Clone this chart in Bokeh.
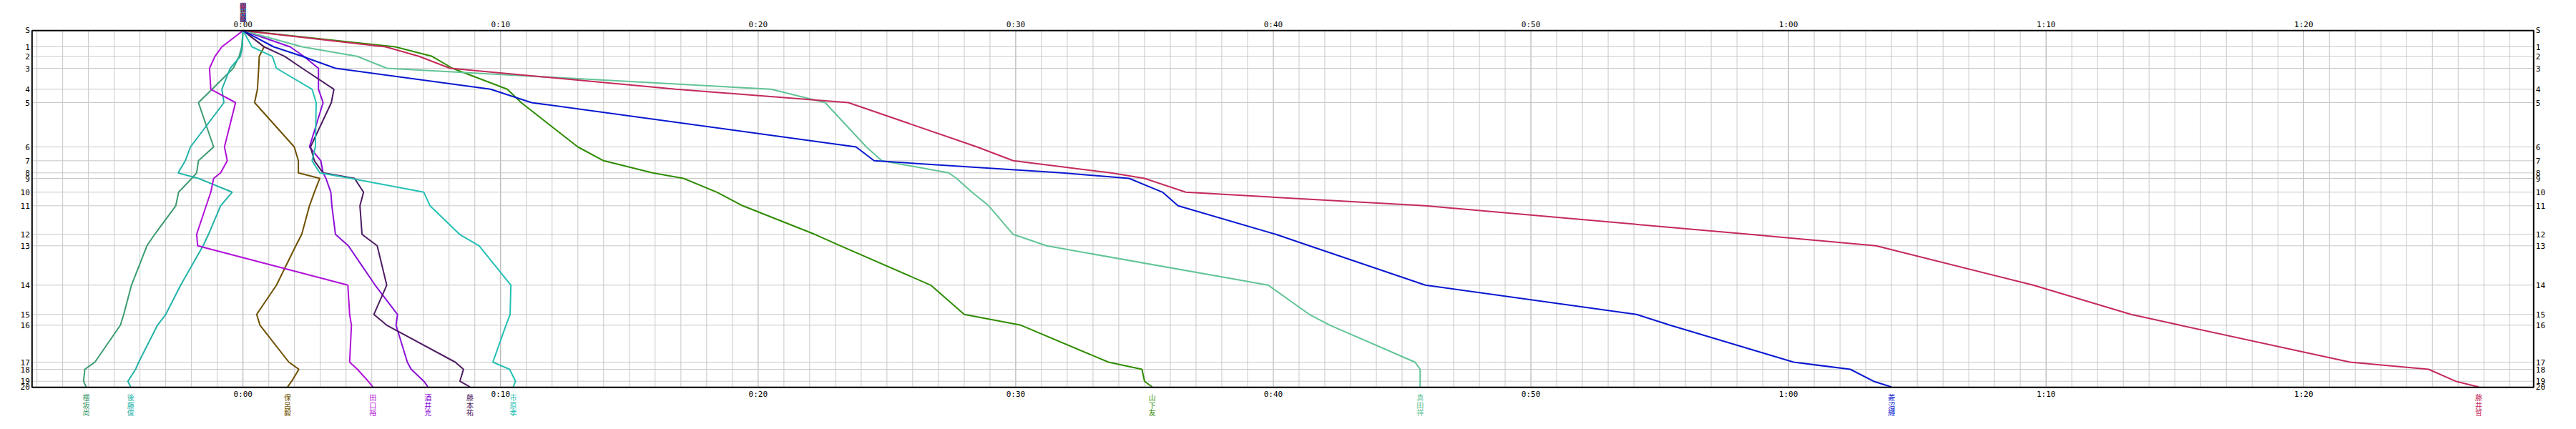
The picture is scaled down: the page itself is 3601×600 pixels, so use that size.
from bokeh.plotting import figure
from bokeh.models import Range1d
from bokeh.core.properties import value
from bokeh.embed import file_html
from bokeh.resources import INLINE

# ---------------- data ----------------
controls = ["S"] + [str(i) for i in range(1, 21)]
# cumulative reference scale of each control (vertical position, arbitrary units)
control_pos = [0, 22.7, 36, 52.7, 82, 100.7, 162.7, 182, 199, 206.7, 226, 245,
               285, 301, 356, 397, 412, 463.7, 473.7, 490.4, 498.4]

runners = ["櫻坂尚", "後藤俊", "保呂毅", "田口裕", "酒井克", "藤本祐",
           "市原孝", "山下友", "真田祥", "菱沼輝", "藤井哲"]
colors = ["#3C9C70", "#22B2A8", "#6E5000", "#B010D8", "#8C10D8", "#4E1C64",
          "#24C0B4", "#2E8C00", "#62C496", "#0818D0", "#C42A5A"]

# time behind the reference (minutes) at each control
d_sakurazaka = [0, -0.05, -0.15, -0.38, -1.2, -1.73, -1.14, -1.73, -1.80, -1.99, -2.50,
                -2.61, -3.43, -3.73, -4.33, -4.63, -4.76, -5.75, -6.14, -6.19, -6.09]
d_goto = [0, -0.03, -0.10, -0.5, -0.82, -0.74, -2.04, -2.24, -2.52, -1.73, -0.42,
          -0.87, -1.34, -1.55, -2.42, -3.0, -3.32, -4.05, -4.17, -4.47, -4.36]
d_horo = [0, 0.82, 0.63, 0.61, 0.56, 0.45, 1.99, 2.15, 2.15, 2.98, 2.77,
          2.58, 2.28, 2.05, 1.30, 0.53, 0.66, 1.78, 2.17, 1.89, 1.73]
d_taguchi = [0, -0.82, -1.09, -1.30, -1.25, -0.29, -0.72, -0.61, -0.87, -1.14, -1.25,
             -1.43, -1.80, -1.76, 4.07, 4.14, 4.21, 4.14, 4.44, 4.86, 5.04]
d_sakai = [0, 1.83, 2.36, 2.93, 2.93, 3.11, 2.58, 3.02, 3.11, 3.22, 3.41,
           3.45, 3.59, 4.09, 5.13, 6.0, 5.94, 6.38, 6.53, 7.02, 7.18]
d_fujimoto = [0, 0.82, 1.62, 2.3, 3.53, 3.43, 2.62, 2.77, 3.11, 4.33, 4.68,
              4.54, 4.62, 5.21, 5.58, 5.08, 5.58, 8.24, 8.56, 8.42, 8.81]
d_ichihara = [0, 0.35, 1.14, 1.30, 2.68, 2.84, 2.81, 2.68, 2.98, 4.19, 7.02,
              7.26, 8.41, 9.17, 10.40, 10.37, 10.21, 9.70, 10.35, 10.58, 10.49]
d_yamashita = [0, 5.91, 7.34, 8.13, 10.26, 10.8, 13.0, 14.0, 15.9, 17.1, 18.4,
               19.4, 22.2, 23.2, 26.7, 28.0, 30.2, 33.6, 34.9, 35.0, 35.3]
d_sanada = [0, 2.30, 4.43, 5.59, 20.5, 22.6, 24.2, 24.8, 27.4, 27.7, 28.3,
            28.95, 29.9, 31.2, 39.8, 41.4, 42.2, 45.5, 45.7, 45.7, 45.7]
d_hishinuma = [0, 1.19, 2.30, 3.59, 9.61, 11.2, 23.8, 24.5, 31.8, 34.4, 35.7,
               36.3, 40.1, 41.4, 45.9, 54.1, 55.4, 60.2, 62.4, 63.3, 64.0]
d_fujii = [0, 5.54, 6.83, 8.04, 16.8, 23.5, 28.5, 29.9, 33.7, 35.0, 36.6,
           45.9, 58.5, 63.4, 69.5, 73.3, 75.2, 81.8, 84.85, 85.9, 86.8]

diffs = [d_sakurazaka, d_goto, d_horo, d_taguchi, d_sakai, d_fujimoto,
         d_ichihara, d_yamashita, d_sanada, d_hishinuma, d_fujii]

x_major = list(range(0, 90, 10))
x_minor = [m for m in range(-8, 89) if m % 10 != 0]
x_labels = ["%d:%02d" % (m // 60, m % 60) for m in x_major]

# ---------------- layout ----------------
W, H = 3585, 584
BOX_L, BOX_R = -8.19, 88.93          # time span of the plot box (minutes)
BOX_T, BOX_B = 0.0, 499.0            # vertical span of the plot box
PX_L, PX_T = 44.3, 42.3              # box offset inside the canvas (px)
PPM = 3497 / (BOX_R - BOX_L)         # px per minute

p = figure(width=W, height=H, output_backend="svg", toolbar_location=None,
           title=None, x_axis_location=None, y_axis_location=None,
           x_range=Range1d(BOX_L - PX_L / PPM, BOX_L + (W - PX_L) / PPM),
           y_range=Range1d(BOX_T + (H - PX_T), BOX_T - PX_T),
           min_border=0, min_border_left=0, min_border_right=0,
           min_border_top=0, min_border_bottom=0)
p.outline_line_color = None
p.background_fill_color = "white"
p.border_fill_color = "white"
p.xgrid.visible = False
p.ygrid.visible = False

# grid
p.segment(x0=x_minor, y0=BOX_T, x1=x_minor, y1=BOX_B, line_color="#C8C8C8", line_width=1)
p.segment(x0=x_major, y0=BOX_T, x1=x_major, y1=BOX_B, line_color="#A4A4A4", line_width=1)
p.segment(x0=BOX_L, y0=control_pos, x1=BOX_R, y1=control_pos, line_color="#C8C8C8", line_width=1)

# runners
for name, col, d in zip(runners, colors, diffs):
    p.line(d, control_pos, line_color=col, line_width=2)

# box
p.quad(left=BOX_L, right=BOX_R, top=BOX_T, bottom=BOX_B, fill_color=None,
       line_color="black", line_width=2)

tick_font = value("DejaVu Sans Mono")
# time labels above and below
p.text(x=x_major, y=BOX_T - 2, text=x_labels, text_align="center", text_baseline="bottom",
       text_font=tick_font, text_font_size="11px", text_color="black")
p.text(x=x_major, y=BOX_B + 3.5, text=x_labels, text_align="center", text_baseline="top",
       text_font=tick_font, text_font_size="11px", text_color="black")
# control labels left and right
p.text(x=BOX_L - 3 / PPM, y=control_pos, text=controls, text_align="right",
       text_baseline="middle", text_font=tick_font, text_font_size="11px", text_color="black")
p.text(x=BOX_R + 3 / PPM, y=control_pos, text=controls, text_align="left",
       text_baseline="middle", text_font=tick_font, text_font_size="11px", text_color="black")

# runner names: stacked characters at start (top) and at finish (bottom)
name_font = value("Noto Sans CJK JP")
top_rows = [BOX_T - 34.8, BOX_T - 25.8, BOX_T - 16.8]
bot_rows = [BOX_B + 13.7, BOX_B + 24.2, BOX_B + 34.7]
for k in range(3):
    p.text(x=[d[0] for d in diffs], y=top_rows[k], text=[n[k] for n in runners],
           text_color=colors, text_align="center", text_baseline="middle",
           text_font=name_font, text_font_size="9px")
    p.text(x=[d[-1] for d in diffs], y=bot_rows[k], text=[n[k] for n in runners],
           text_color=colors, text_align="center", text_baseline="middle",
           text_font=name_font, text_font_size="10px")

open("out.html", "w").write(file_html(p, INLINE))
